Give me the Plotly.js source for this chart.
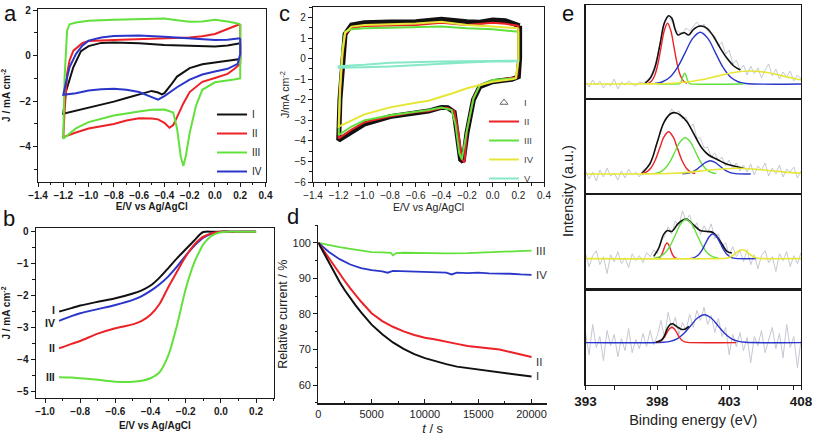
<!DOCTYPE html>
<html><head><meta charset="utf-8">
<script src="https://cdn.plot.ly/plotly-3.0.1.min.js"></script>
<style>html,body{margin:0;padding:0;background:#fff}#chart{width:817px;height:437px}</style>
</head><body><div id="chart"></div>
<script>
// ---------- Panel a : CV curves ----------
const aNames = ['I','II','III','IV'];
const aI_x = [0.2,0.2,0.1,0,-0.1,-0.2,-0.3,-0.35,-0.4,-0.42,-0.45,-0.5,-0.55,-0.6,-0.7,-0.8,-0.9,-1.0,-1.1,-1.2,-1.18,-1.12,-1.06,-1.0,-0.9,-0.8,-0.6,-0.4,-0.2,0,0.1,0.2];
const aI_y = [0.54,-0.15,-0.22,-0.3,-0.38,-0.55,-0.92,-1.3,-1.65,-1.7,-1.62,-1.55,-1.62,-1.7,-1.86,-2.02,-2.15,-2.27,-2.42,-2.55,-1.6,-0.5,0.2,0.42,0.56,0.58,0.54,0.47,0.44,0.4,0.45,0.54];
const aII_x = [0.2,0.2,0.15,0.1,0,-0.1,-0.2,-0.25,-0.3,-0.33,-0.36,-0.4,-0.45,-0.5,-0.6,-0.7,-0.8,-0.9,-1.0,-1.1,-1.2,-1.19,-1.17,-1.15,-1.12,-1.05,-1.0,-0.8,-0.6,-0.4,-0.2,-0.1,0,0.1,0.2];
const aII_y = [1.39,-0.36,-0.6,-0.8,-0.98,-1.15,-1.6,-2.1,-2.7,-3.05,-3.17,-2.95,-2.8,-2.76,-2.75,-2.85,-3.0,-3.1,-3.2,-3.38,-3.58,-2.5,-0.8,-0.2,0.22,0.55,0.64,0.69,0.72,0.77,0.8,0.85,0.95,1.17,1.39];
const aIII_x = [0.2,0.2,0.15,0.1,0,-0.1,-0.15,-0.2,-0.23,-0.25,-0.27,-0.3,-0.33,-0.4,-0.5,-0.6,-0.8,-1.0,-1.1,-1.2,-1.19,-1.17,-1.15,-1.1,-1.0,-0.8,-0.6,-0.4,-0.3,-0.2,-0.1,0,0.1,0.2];
const aIII_y = [1.39,-1.0,-1.05,-1.1,-1.17,-1.5,-2.2,-3.4,-4.4,-4.85,-4.45,-3.2,-2.5,-2.37,-2.38,-2.45,-2.63,-2.92,-3.2,-3.65,-1.0,1.1,1.38,1.46,1.53,1.58,1.61,1.63,1.56,1.49,1.5,1.58,1.5,1.39];
const aIV_x = [0.2,0.2,0.18,0.1,0,-0.1,-0.2,-0.3,-0.4,-0.45,-0.5,-0.6,-0.7,-0.8,-0.9,-1.0,-1.1,-1.2,-1.18,-1.15,-1.1,-1.05,-1.0,-0.9,-0.8,-0.6,-0.4,-0.2,0,0.1,0.2];
const aIV_y = [0.76,0.07,-0.36,-0.58,-0.7,-0.83,-1.05,-1.39,-1.78,-1.93,-1.82,-1.6,-1.5,-1.46,-1.48,-1.53,-1.65,-1.72,-1.2,-0.5,0.07,0.44,0.66,0.8,0.86,0.89,0.83,0.76,0.69,0.7,0.76];

// ---------- Panel b : LSV ----------
const bE = [-0.92,-0.85,-0.8,-0.7,-0.6,-0.5,-0.45,-0.4,-0.35,-0.3,-0.25,-0.2,-0.15,-0.12,-0.1,-0.05,0,0.05,0.1,0.2];
const bI = [-2.51,-2.4,-2.32,-2.2,-2.09,-1.94,-1.84,-1.69,-1.45,-1.15,-0.84,-0.55,-0.27,-0.09,-0.01,0,0,0,0,0];
const bIV = [-2.8,-2.65,-2.56,-2.43,-2.3,-2.14,-2.02,-1.86,-1.66,-1.41,-1.1,-0.75,-0.44,-0.28,-0.19,-0.06,0,0,0,0];
const bII = [-3.66,-3.52,-3.43,-3.2,-3.03,-2.91,-2.8,-2.61,-2.28,-1.75,-1.26,-0.78,-0.4,-0.24,-0.16,-0.05,0,0,0,0];
const bIII = [-4.57,-4.58,-4.6,-4.65,-4.71,-4.71,-4.68,-4.6,-4.42,-3.9,-2.95,-1.8,-0.95,-0.6,-0.4,-0.12,-0.02,0,0,0];

// ---------- Panel c : CV curves ----------
const cNames = ['I','II','III','IV','V'];
const cI_x = [0.21,0.21,0.2,0.15,0.1,0,-0.1,-0.15,-0.2,-0.23,-0.25,-0.28,-0.3,-0.35,-0.4,-0.5,-0.6,-0.8,-1.0,-1.1,-1.2,-1.19,-1.17,-1.15,-1.1,-1.0,-0.8,-0.6,-0.4,-0.3,-0.2,-0.1,0,0.1,0.21];
const cI_y = [1.6,0.05,-0.88,-1.0,-1.04,-1.12,-1.36,-2.0,-3.6,-5.0,-4.9,-3.6,-2.6,-2.38,-2.37,-2.55,-2.63,-2.82,-3.18,-3.56,-3.96,-2.0,0.0,1.2,1.64,1.75,1.79,1.8,1.92,1.83,1.8,1.77,1.88,1.85,1.6];
const cII_x = [0.2,0.2,0.19,0.1,0,-0.1,-0.15,-0.2,-0.22,-0.24,-0.27,-0.3,-0.35,-0.4,-0.5,-0.6,-0.8,-1.0,-1.1,-1.2,-1.19,-1.17,-1.15,-1.1,-1.0,-0.8,-0.6,-0.4,-0.2,0,0.1,0.2];
const cII_y = [1.6,0.0,-0.9,-1.0,-1.08,-1.3,-1.9,-3.5,-5.05,-4.9,-3.5,-2.55,-2.4,-2.4,-2.55,-2.6,-2.8,-3.1,-3.45,-3.88,-2.0,0.2,1.2,1.48,1.59,1.62,1.64,1.75,1.64,1.75,1.7,1.6];
const cIII_x = [0.2,0.2,0.18,0.1,0,-0.1,-0.15,-0.2,-0.24,-0.26,-0.29,-0.32,-0.4,-0.5,-0.6,-0.8,-1.0,-1.1,-1.2,-1.19,-1.17,-1.15,-1.1,-1.0,-0.8,-0.6,-0.4,-0.2,0,0.2];
const cIII_y = [1.31,-0.1,-0.95,-1.0,-1.04,-1.3,-1.95,-3.45,-4.9,-4.6,-3.2,-2.5,-2.38,-2.5,-2.58,-2.75,-3.0,-3.3,-3.72,-1.5,0.5,1.31,1.43,1.48,1.51,1.53,1.56,1.48,1.43,1.31];
const cIV_x = [0.2,0.2,0.18,0.15,0,-0.1,-0.2,-0.3,-0.4,-0.5,-0.6,-0.8,-1.0,-1.1,-1.2,-1.19,-1.17,-1.15,-1.1,-1.0,-0.8,-0.6,-0.4,-0.2,0,0.2];
const cIV_y = [1.48,-0.1,-0.95,-1.0,-1.12,-1.28,-1.44,-1.66,-1.85,-2.05,-2.14,-2.37,-2.71,-2.99,-3.31,-1.5,0.3,1.25,1.56,1.64,1.68,1.71,1.8,1.64,1.56,1.48];
const cV_x = [0.2,0,-0.2,-0.4,-0.6,-0.8,-1.0,-1.2,-1.2,-1.0,-0.8,-0.6,-0.4,-0.2,0,0.2];
const cV_y = [-0.13,-0.14,-0.19,-0.26,-0.33,-0.38,-0.42,-0.44,-0.36,-0.3,-0.2,-0.16,-0.14,-0.12,-0.1,-0.1];

// ---------- Panel d : chronoamperometry ----------
const dI_t = [0,500,1000,1500,2000,2500,3000,3500,4000,5000,6000,7000,8000,9000,10000,11000,12000,13000,14000,15000,16000,17000,18000,19000,20000];
const dI_v = [100,97.2,94.3,91.6,89.0,86.6,84.4,82.4,80.5,77.0,74.3,72.0,70.2,68.7,67.6,66.7,65.9,65.2,64.8,64.5,64.1,63.7,63.3,62.8,62.4];
const dII_t = dI_t;
const dII_v = [100,97.8,95.6,93.4,91.3,89.2,87.2,85.3,83.5,80.2,78.0,76.4,75.1,74.1,73.3,72.8,72.3,71.6,71.0,70.6,70.4,70.0,69.3,68.5,67.9];
const dIII_t = [0,1000,2000,3000,4000,5000,6000,6800,7000,7300,8000,10000,12000,14000,16000,18000,20000];
const dIII_v = [100,99.3,98.8,98.3,97.9,97.4,97.3,97.2,96.5,97.1,97.2,97.0,97.0,97.1,97.3,97.5,97.8];
const dIV_t = [0,500,1000,2000,3000,4000,5000,6000,6500,7000,8000,9000,10000,11000,12000,12500,13000,14000,15000,16000,17000,18000,19000,20000];
const dIV_v = [100,98.6,97.4,95.4,93.9,92.9,92.3,92.0,91.6,92.1,92.0,91.9,91.8,91.7,91.6,91.1,91.6,91.5,91.6,91.4,91.4,91.3,91.1,91.0];

// ---------- Panel e : XPS N1s ----------
const eGrid = [393,393.25,393.5,393.75,394,394.25,394.5,394.75,395,395.25,395.5,395.75,396,396.25,396.5,396.75,397,397.25,397.5,397.75,398,398.25,398.5,398.75,399,399.25,399.5,399.75,400,400.25,400.5,400.75,401,401.25,401.5,401.75,402,402.25,402.5,402.75,403,403.25,403.5,403.75,404,404.25,404.5,404.75,405,405.25,405.5,405.75,406,406.25,406.5,406.75,407,407.25,407.5,407.75,408];
const e1Raw = [2,-3,4,-1,3,-4,1,-2,5,-5,2,-1,3,0,-2,2,1,3,7,15,28,45,61,67,63,55,52,50,56,53,58,62,57,60,53,50,48,38,42,30,34,20,24,14,19,9,18,10,16,6,14,20,8,15,5,12,7,13,3,9,5];
const e2Raw = [3,-5,2,-7,4,-3,6,-2,1,-6,3,-4,5,-1,2,-3,4,6,12,19,33,42,55,58,65,60,63,55,57,47,50,36,36,26,27,17,21,13,17,8,14,5,11,3,9,2,10,-1,8,4,11,-2,6,0,9,-3,5,2,7,-4,3];
const e3Raw = [5,-8,3,8,-6,2,-15,4,-3,7,-5,1,-9,5,-2,3,-4,6,2,9,5,18,22,32,25,38,33,48,38,44,30,36,24,33,26,35,20,25,12,16,4,12,2,8,-3,9,-6,4,-10,3,8,-4,2,-13,5,-2,7,-8,3,-5,6];
const e4Raw = [10,-12,18,-5,6,-18,12,-3,8,-14,4,-8,14,-10,3,-6,9,-4,12,-2,7,22,5,30,14,25,8,20,12,28,15,32,22,35,18,27,10,24,6,15,-12,8,-4,10,-8,5,-20,6,-3,12,-10,4,15,-6,9,-15,18,-5,6,-25,2];

const e1Red_x = [397.36,397.585,397.81,398.035,398.26,398.485,398.71,398.935,399.16,399.385,399.61,399.835,400.06];
const e1Red_y = [0.67,2.67,8.2,19.7,36.8,53.5,60.7,53.5,36.8,19.7,8.2,2.67,0.67];
const e1Blue_x = [397.84,398.365,398.89,399.415,399.94,400.465,400.99,401.515,402.04,402.565,403.09,403.615,404.14,408];
const e1Blue_y = [0.57,2.27,6.98,16.8,31.4,45.6,51.7,45.6,31.4,16.8,6.98,2.27,0.57,0];
const e1Green_x = [397.97,399.48,399.55,399.62,399.69,399.76,399.83,399.9,399.97,400.04,400.11,400.18,400.25,400.32,403.99];
const e1Green_y = [0,0.12,0.47,1.44,3.48,6.49,9.44,10.7,9.44,6.49,3.48,1.44,0.47,0.12,0];
const e1Yellow_x = [393,397.61,398.755,399.9,401.045,402.19,403.335,404.48,405.625,406.77,408];
const e1Yellow_y = [0,0.14,0.57,1.76,4.23,7.9,11.5,13,11.5,7.9,4.0];
const e1Black_x = [397.15,397.5,397.85,398.2,398.48,398.78,399.01,399.25,399.43,399.71,399.9,400.18,400.52,400.99,401.46,401.92,402.39,402.85,403.32,403.78];
const e1Black_y = [0.7,5.7,17.3,40.7,60.7,68.3,65.7,54,49,50.7,51.3,49,54.7,58,55.7,47.3,35.7,25.7,18,14];

const e2Red_x = [396.92,397.23,397.54,397.85,398.16,398.47,398.78,399.09,399.4,399.71,400.02,400.33,400.64];
const e2Red_y = [0.47,1.86,5.71,13.7,25.7,37.3,42.3,37.3,25.7,13.7,5.71,1.86,0.47];
const e2Green_x = [397.78,398.14,398.5,398.86,399.22,399.58,399.94,400.3,400.66,401.02,401.38,401.74,402.1];
const e2Green_y = [0.4,1.6,4.9,11.8,22.0,32.0,36.3,32.0,22.0,11.8,4.9,1.6,0.4];
const e2Blue_x = [399.74,400.065,400.39,400.715,401.04,401.365,401.69,402.015,402.34,402.665,402.99,403.315,403.64,404.5];
const e2Blue_y = [0.15,0.59,1.8,4.32,8.07,11.7,13.3,11.7,8.07,4.32,1.8,0.59,0.15,0];
const e2Yellow_x = [393,397.0,398.1,399.2,400.3,401.35,402.45,403.55,404.65,405.75,406.85,408];
const e2Yellow_y = [0,0.07,0.26,0.8,1.9,3.46,5.0,5.7,5.0,3.46,1.9,0.74];
const e2Black_x = [396.92,397.5,397.97,398.43,398.9,399.25,399.59,400.06,400.52,401.11,401.57,402.15,402.85,403.55,404.01];
const e2Black_y = [0.7,10.7,30.7,50.7,60,61.3,59,52.3,40.7,25.7,19,14.7,9.7,7.3,5.7];

const e3Red_x = [397.99,398.105,398.22,398.335,398.45,398.565,398.68,398.795,398.91,399.025,399.14,399.255,399.37];
const e3Red_y = [0.17,0.69,2.12,5.1,9.5,13.8,15.7,13.8,9.5,5.1,2.12,0.69,0.17];
const e3Green_x = [397.76,398.135,398.51,398.885,399.26,399.635,400.01,400.385,400.76,401.135,401.51,401.885,402.26];
const e3Green_y = [0.44,1.75,5.36,12.9,24.1,35.0,39.7,35.0,24.1,12.9,5.36,1.75,0.44];
const e3Blue_x = [400.31,400.57,400.83,401.09,401.35,401.61,401.87,402.13,402.39,402.65,402.91,403.17,403.43,404.9];
const e3Blue_y = [0.28,1.1,3.38,8.1,15.2,22.1,25,22.1,15.2,8.1,3.38,1.1,0.28,0];
const e3Yellow_x = [393,402.55,402.775,403.0,403.225,403.45,403.675,403.9,404.125,404.35,404.575,404.8,405.025,405.25,408];
const e3Yellow_y = [0,0.1,0.4,1.22,2.93,5.46,7.94,9,7.94,5.46,2.93,1.22,0.4,0.1,0];
const e3Black_x = [397.75,398.1,398.45,398.71,399.0,399.48,400.01,400.52,400.99,401.46,401.87,402.39,402.85,403.2];
const e3Black_y = [2.3,10.7,24.7,28.3,27.3,35.7,39.7,34,28.3,27.3,26.3,17.3,7.3,5.7];

const e4Red_x = [397.93,398.11,398.29,398.47,398.65,398.83,399.01,399.19,399.37,399.55,399.73,399.91,400.09,403.5];
const e4Red_y = [0.17,0.67,2.07,4.97,9.29,13.5,15.3,13.5,9.29,4.97,2.07,0.67,0.17,0];
const e4Blue_x = [393,398.42,398.895,399.37,399.845,400.32,400.795,401.27,401.745,402.22,402.695,403.17,403.645,404.12,408];
const e4Blue_y = [0,0.3,1.22,3.74,9.0,16.8,24.4,27.7,24.4,16.8,9.0,3.74,1.22,0.3,0];
const e4Black_x = [397.9,398.3,398.5,398.71,398.9,399.06,399.25,399.45,399.71,399.94,400.2];
const e4Black_y = [0.3,2.7,7,14.3,18,18.7,17,15,13,13.5,16];

// ---------- styling ----------
const FONT = 'Liberation Sans, Arial, sans-serif';
const C = {k:'#111111', r:'#ec2227', g:'#62e03c', b:'#2a36c9', y:'#e6e636', cy:'#86e8c8', gray:'#c4c9d1'};
const traces = [];
function add(x, y, color, width, ax, opts) {
  const s = ax === 1 ? '' : String(ax);
  traces.push(Object.assign({x: x, y: y, type: 'scatter', mode: 'lines',
    line: {color: color, width: width}, xaxis: 'x' + s, yaxis: 'y' + s,
    showlegend: false, hoverinfo: 'skip'}, opts || {}));
}
// a
add(aI_x, aI_y, C.k, 2, 1, {name: aNames[0], showlegend: true, legend: 'legend'});
add(aII_x, aII_y, C.r, 2, 1, {name: aNames[1], showlegend: true, legend: 'legend'});
add(aIII_x, aIII_y, C.g, 2, 1, {name: aNames[2], showlegend: true, legend: 'legend'});
add(aIV_x, aIV_y, C.b, 2, 1, {name: aNames[3], showlegend: true, legend: 'legend'});
// b
const sp = {shape: 'spline', smoothing: 0.8};
add(bE, bI, C.k, 2, 2, {line: Object.assign({color: C.k, width: 2}, sp)});
add(bE, bIV, C.b, 2, 2, {line: Object.assign({color: C.b, width: 2}, sp)});
add(bE, bII, C.r, 2, 2, {line: Object.assign({color: C.r, width: 2}, sp)});
add(bE, bIII, C.g, 2, 2, {line: Object.assign({color: C.g, width: 2}, sp)});
// c
add(cI_x, cI_y, C.k, 5, 3);
traces.push({x: [null], y: [null], type: 'scatter', mode: 'markers', name: cNames[0],
  marker: {symbol: 'triangle-up-open', size: 7, color: '#666', line: {width: 1}},
  xaxis: 'x3', yaxis: 'y3', legend: 'legend2', showlegend: true, hoverinfo: 'skip'});
add(cII_x, cII_y, C.r, 2, 3, {name: cNames[1], showlegend: true, legend: 'legend2'});
add(cIII_x, cIII_y, C.g, 2, 3, {name: cNames[2], showlegend: true, legend: 'legend2'});
add(cIV_x, cIV_y, C.y, 2, 3, {name: cNames[3], showlegend: true, legend: 'legend2'});
add(cV_x, cV_y, C.cy, 2, 3, {name: cNames[4], showlegend: true, legend: 'legend2'});
// d
add(dIII_t, dIII_v, C.g, 1.8, 4);
add(dIV_t, dIV_v, C.b, 1.8, 4);
add(dII_t, dII_v, C.r, 2, 4);
add(dI_t, dI_v, C.k, 2, 4);
// e
const spl = (c, w) => ({color: c, width: w, shape: 'spline', smoothing: 1});
add(eGrid, e1Raw, C.gray, 1, 5);
add(e1Black_x, e1Black_y, C.k, 1.6, 5, {line: spl(C.k, 1.6)});
add(e1Red_x, e1Red_y, C.r, 1.4, 5, {line: spl(C.r, 1.4)});
add(e1Blue_x, e1Blue_y, C.b, 1.4, 5, {line: spl(C.b, 1.4)});
add(e1Green_x, e1Green_y, C.g, 1.4, 5, {line: spl(C.g, 1.4)});
add(e1Yellow_x, e1Yellow_y, C.y, 1.6, 5, {line: spl(C.y, 1.6)});

add(eGrid, e2Raw, C.gray, 1, 6);
add(e2Black_x, e2Black_y, C.k, 1.6, 6, {line: spl(C.k, 1.6)});
add(e2Red_x, e2Red_y, C.r, 1.4, 6, {line: spl(C.r, 1.4)});
add(e2Green_x, e2Green_y, C.g, 1.4, 6, {line: spl(C.g, 1.4)});
add(e2Blue_x, e2Blue_y, C.b, 1.4, 6, {line: spl(C.b, 1.4)});
add(e2Yellow_x, e2Yellow_y, C.y, 1.6, 6, {line: spl(C.y, 1.6)});

add(eGrid, e3Raw, C.gray, 1, 7);
add(e3Black_x, e3Black_y, C.k, 1.6, 7, {line: spl(C.k, 1.6)});
add(e3Red_x, e3Red_y, C.r, 1.4, 7, {line: spl(C.r, 1.4)});
add(e3Green_x, e3Green_y, C.g, 1.4, 7, {line: spl(C.g, 1.4)});
add(e3Blue_x, e3Blue_y, C.b, 1.4, 7, {line: spl(C.b, 1.4)});
add(e3Yellow_x, e3Yellow_y, C.y, 1.6, 7, {line: spl(C.y, 1.6)});

add(eGrid, e4Raw, C.gray, 1, 8);
add(e4Blue_x, e4Blue_y, C.b, 1.4, 8, {line: spl(C.b, 1.4)});
add(e4Red_x, e4Red_y, C.r, 1.4, 8, {line: spl(C.r, 1.4)});
add(e4Black_x, e4Black_y, C.k, 1.6, 8, {line: spl(C.k, 1.6)});

// ---------- axes ----------
const W = 817, H = 437;
const dx = (l, r) => [l / W, r / W];
const dy = (t, b) => [1 - b / H, 1 - t / H];
const base = {showline: true, linecolor: '#1a1a1a', linewidth: 1.2, mirror: true, showgrid: false,
  zeroline: false, ticks: 'outside', ticklen: 4, tickwidth: 1, tickcolor: '#1a1a1a', automargin: false};
const bold = (s) => ({family: FONT, size: s, color: '#1a1a1a', weight: 'bold'});
const norm = (s, c) => ({family: FONT, size: s, color: c || '#333'});
function ax(o) { return Object.assign({}, base, o); }
const minor = (d, l) => ({dtick: d, ticklen: l || 2.5, ticks: 'outside', tickcolor: '#1a1a1a'});

const layout = {
  width: W, height: H, margin: {l: 0, r: 0, t: 0, b: 0},
  paper_bgcolor: '#fff', plot_bgcolor: 'rgba(0,0,0,0)', showlegend: true,
  font: {family: FONT},
  // a
  xaxis: ax({domain: dx(38, 265.5), anchor: 'y', range: [-1.4, 0.4], dtick: 0.2, tick0: 0, tickformat: '.1f',
    minor: minor(0.1), tickfont: bold(10), title: {text: 'E/V vs Ag/AgCl', font: bold(10), standoff: 3}}),
  yaxis: ax({domain: dy(9, 181.7), anchor: 'x', range: [-5.54, 2.05], dtick: 2, tick0: 0,
    minor: minor(1), tickfont: bold(10), title: {text: 'J / mA cm<sup>-2</sup>', font: bold(10), standoff: 8}}),
  // b
  xaxis2: ax({domain: dx(35.7, 274), anchor: 'y2', range: [-1.053, 0.302], dtick: 0.2, tick0: 0, tickformat: '.1f',
    minor: minor(0.1), tickfont: bold(10), title: {text: 'E/V vs Ag/AgCl', font: bold(10), standoff: 6}}),
  yaxis2: ax({domain: dy(228.3, 397.7), anchor: 'x2', range: [-5.21, 0.105], dtick: 1, tick0: 0,
    minor: minor(0.5), tickfont: bold(10), title: {text: 'J / mA cm<sup>-2</sup>', font: bold(10), standoff: 6}}),
  // c
  xaxis3: ax({domain: dx(313, 544), anchor: 'y3', range: [-1.4, 0.4], dtick: 0.2, tick0: 0, tickformat: '.1f',
    minor: minor(0.1), tickfont: norm(10, '#222'), title: {text: 'E/V vs Ag/AgCl', font: norm(10.5, '#222'), standoff: 2}}),
  yaxis3: ax({domain: dy(7.3, 182), anchor: 'x3', range: [-6, 2.5], dtick: 1, tick0: 0,
    minor: minor(0.5), tickfont: norm(10, '#222'), title: {text: 'J/mA cm<sup>-2</sup>', font: norm(10.5, '#222'), standoff: 2}}),
  // d
  xaxis4: ax({domain: dx(318.3, 547), anchor: 'y4', range: [0, 21450], dtick: 5000, tick0: 0, mirror: false,
    ticks: 'inside', tickformat: 'd', minor: {dtick: 2500, ticklen: 2.5, ticks: 'inside', tickcolor: '#1a1a1a'},
    tickfont: norm(11, '#222'), title: {text: '<i>t</i> / s', font: norm(13, '#222'), standoff: 5}}),
  yaxis4: ax({domain: dy(225, 403.3), anchor: 'x4', range: [54.9, 105], dtick: 10, tick0: 0, mirror: false,
    minor: minor(5), tickfont: norm(11, '#222'), title: {text: 'Relative current / %', font: norm(12.5, '#222'), standoff: 2}}),
  legend: {x: 212 / W, y: 1 - 100 / H, xanchor: 'left', yanchor: 'top', bgcolor: 'rgba(0,0,0,0)',
    font: norm(10, '#222'), itemwidth: 30, tracegroupgap: 0},
  legend2: {x: 484 / W, y: 1 - 88 / H, xanchor: 'left', yanchor: 'top', bgcolor: 'rgba(0,0,0,0)',
    font: norm(9.5, '#444'), itemwidth: 30, tracegroupgap: 0},
  annotations: [],
  hovermode: false
};
// e axes
const eRanges = [[-15, 79], [-20, 75], [-31, 65], [-41.6, 52.7]];
const eTops = [5, 99, 194, 289.5, 384.5];
for (let i = 0; i < 4; i++) {
  const n = i + 5;
  const last = i === 3;
  const o = {domain: dx(585.5, 801), anchor: 'y' + n, range: [393, 408],
    showticklabels: last, ticks: last ? 'outside' : '', dtick: 5, tick0: 393,
    tickfont: bold(13.5), linewidth: 1.4};
  if (last) {
    o.minor = {dtick: 2.5, ticklen: 4, ticks: 'outside', tickcolor: '#1a1a1a'};
    o.title = {text: 'Binding energy (eV)', font: norm(14.5, '#222'), standoff: 6};
  }
  layout['xaxis' + n] = ax(o);
  layout['yaxis' + n] = ax({domain: dy(eTops[i], eTops[i + 1]), anchor: 'x' + n, range: eRanges[i],
    showticklabels: false, ticks: '', linewidth: 1.4});
}
// annotations
const A = layout.annotations;
const letters = [['a', 3, 0, 'top'], ['b', 2, 205, 'top'], ['c', 278, 0, 'top'], ['d', 286, 203, 'top'], ['e', 561, 0, 'top']];
letters.forEach(([t, x, y, ya]) => A.push({text: t, xref: 'paper', yref: 'paper', x: x / W, y: 1 - y / H,
  xanchor: 'left', yanchor: ya, showarrow: false, borderpad: 0, font: {family: FONT, size: 22, color: '#111'}}));
// b labels
[['I', bI, -2], ['IV', bIV, 2], ['II', bII, 0], ['III', bIII, 0]].forEach(([t, arr, ys]) => A.push({text: t, xref: 'x2', yref: 'y2',
  x: bE[0] - 0.015, y: arr[0], yshift: -ys, xanchor: 'right', yanchor: 'middle', showarrow: false, borderpad: 0, font: bold(10.5)}));
// d labels
[['III', dIII_v, 0], ['IV', dIV_v, 0], ['II', dII_v, -5], ['I', dI_v, 1]].forEach(([t, arr, ys]) => A.push({text: t,
  xref: 'x4', yref: 'y4', x: 20350, y: arr[arr.length - 1], yshift: ys, xanchor: 'left', yanchor: 'middle',
  showarrow: false, borderpad: 0, font: norm(11.5, '#333')}));
A.push({text: 'Intensity (a.u.)', xref: 'paper', yref: 'paper', x: 568 / W, y: 1 - 191 / H, textangle: -90,
  xanchor: 'center', yanchor: 'middle', showarrow: false, font: norm(14.5, '#222')});

Plotly.newPlot('chart', traces, layout, {staticPlot: true, displayModeBar: false});
</script>
</body></html>
